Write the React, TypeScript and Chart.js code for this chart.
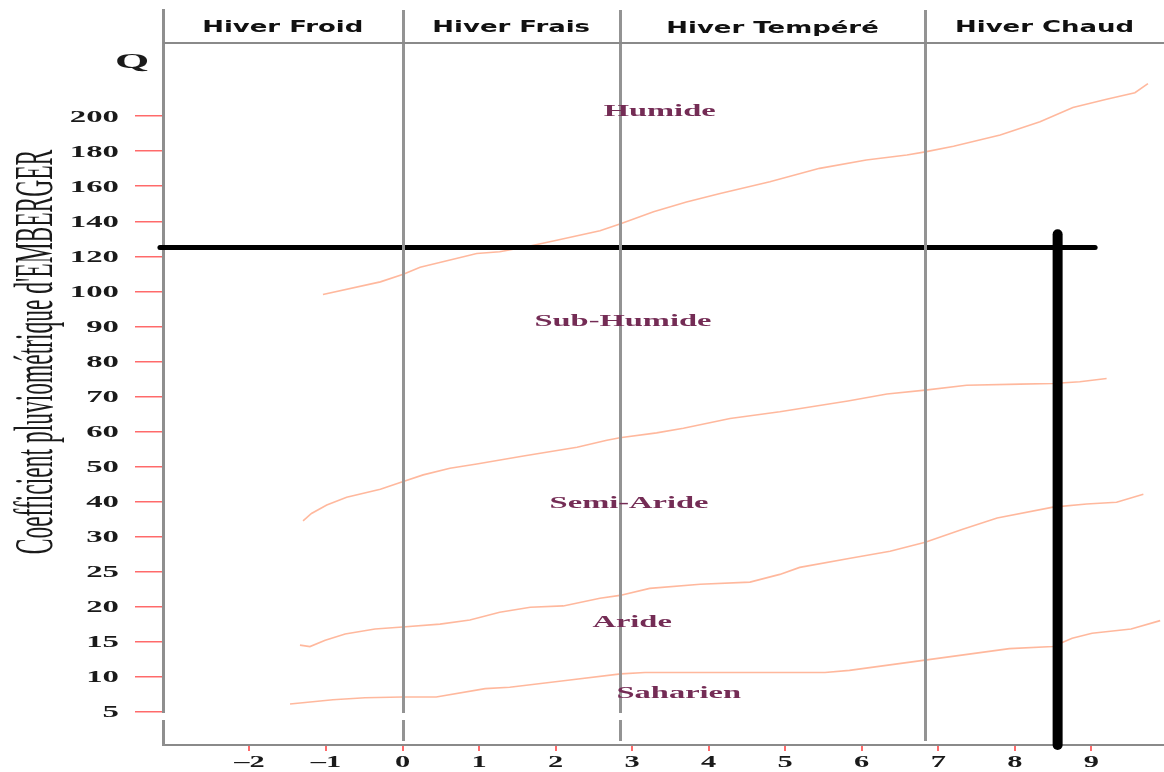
import { useEffect, useRef } from 'react';
import { Chart, registerables } from 'chart.js';

Chart.register(...registerables);

// Emberger climagram: Q (pluviometric quotient) against m (mean minimum of the coldest month, °C)

// Q axis graduations (non-linear, evenly spaced on the axis)
const qTicks = [5, 10, 15, 20, 25, 30, 40, 50, 60, 70, 80, 90, 100, 120, 140, 160, 180, 200];
// m axis graduations
const mTicks = [-2, -1, 0, 1, 2, 3, 4, 5, 6, 7, 8, 9];
const mTickLabels = ['–2', '–1', '0', '1', '2', '3', '4', '5', '6', '7', '8', '9'];

// winter variants
const winterBounds = [0, 2.84, 6.83];
const winterLabels = ['Hiver Froid', 'Hiver Frais', 'Hiver Tempéré', 'Hiver Chaud'];

// bioclimatic stage limits
const limitHumideM = [-1.04, -0.29, 0.01, 0.23, 0.58, 0.97, 1.27, 1.62, 1.97, 2.58, 2.84, 3.28, 3.71, 4.15, 4.8, 5.45, 6.06, 6.59, 6.83, 7.2, 7.81, 8.33, 8.76, 9.2, 9.57, 9.74];
const limitHumideQ = [99.1, 105.4, 109.8, 113.7, 117.4, 121.6, 122.6, 125.4, 128.7, 134.6, 138.4, 145.4, 151, 155.8, 162.6, 170.2, 175, 177.8, 179.6, 182.8, 189.2, 196.8, 205, 209.6, 213.4, 218.6];

const limitSubHumideM = [-1.3, -1.19, -0.99, -0.73, -0.29, -0.01, 0.27, 0.62, 0.97, 1.58, 2.28, 2.67, 2.84, 3.32, 3.67, 4.28, 4.93, 5.82, 6.33, 6.83, 7.37, 8.07, 8.5, 8.85, 9.2];
const limitSubHumideQ = [34.5, 36.6, 39.0, 41.2, 43.5, 45.6, 47.6, 49.5, 50.7, 53.0, 55.5, 57.5, 58.2, 59.6, 60.9, 63.7, 65.6, 68.7, 70.7, 71.8, 73.2, 73.5, 73.7, 74.2, 75.1];

const limitSemiArideM = [-1.34, -1.21, -1.01, -0.75, -0.36, 0, 0.49, 0.88, 1.27, 1.67, 2.1, 2.58, 2.84, 3.23, 3.89, 4.54, 4.93, 5.19, 5.85, 6.37, 6.83, 7.32, 7.77, 8.5, 8.94, 9.33, 9.68];
const limitSemiArideQ = [14.5, 14.3, 15.2, 16.1, 16.8, 17.1, 17.5, 18.1, 19.2, 19.9, 20.1, 21.2, 21.6, 22.6, 23.2, 23.5, 24.6, 25.6, 26.9, 27.9, 29.2, 32.1, 35.3, 38.4, 39.3, 39.8, 42.1];

const limitArideM = [-1.47, -0.91, -0.49, 0, 0.44, 1.08, 1.4, 2.16, 2.85, 3.17, 4.34, 5.52, 5.84, 6.85, 7.93, 8.5, 8.75, 9.01, 9.52, 9.9];
const limitArideQ = [6.1, 6.7, 7.0, 7.1, 7.1, 8.3, 8.5, 9.5, 10.4, 10.6, 10.6, 10.6, 10.9, 12.4, 14.0, 14.3, 15.5, 16.2, 16.8, 18.0];

// stage names and where they are written
const zoneNames = ['Humide', 'Sub-Humide', 'Semi-Aride', 'Aride', 'Saharien'];
const zoneM = [3.36, 2.88, 2.96, 3.0, 3.61];
const zoneQ = [203, 91.8, 39.6, 17.9, 7.8];

// station position
const stationQ = 125;
const stationM = 8.56;
const stationLineM = [-3.17, 9.05];
const stationTopQ = 132.6;

const M_MIN = -3.13;
const M_MAX = 9.95;
const POS_MIN = -0.95;
const POS_MAX = 20.03;

// Q -> position on the graduated axis (piecewise between graduations)
function qToPos(q: number): number {
  const n = qTicks.length;
  if (q <= qTicks[0]) return (q - qTicks[0]) / (qTicks[1] - qTicks[0]);
  for (let i = 1; i < n; i++) {
    if (q <= qTicks[i]) return i - 1 + (q - qTicks[i - 1]) / (qTicks[i] - qTicks[i - 1]);
  }
  return n - 1 + (q - qTicks[n - 1]) / (qTicks[n - 1] - qTicks[n - 2]);
}

const toPoints = (ms: number[], qs: number[]) => ms.map((m, i) => ({ x: m, y: qToPos(qs[i]) }));

function stretchedText(
  ctx: CanvasRenderingContext2D,
  text: string,
  x: number,
  y: number,
  font: string,
  sx: number,
  align: CanvasTextAlign,
  color: string
) {
  ctx.save();
  ctx.translate(x, y);
  ctx.scale(sx, 1);
  ctx.font = font;
  ctx.textAlign = align;
  ctx.textBaseline = 'alphabetic';
  ctx.fillStyle = color;
  ctx.fillText(text, 0, 0);
  ctx.restore();
}

const overlay = {
  id: 'climagramOverlay',
  afterDatasetsDraw(chart: any) {
    const { ctx, chartArea } = chart;
    const xs = chart.scales.x;
    ctx.save();
    // winter variant separators
    ctx.strokeStyle = '#939393';
    ctx.lineWidth = 3;
    winterBounds.forEach((b) => {
      const px = Math.round(xs.getPixelForValue(b)) + 0.5;
      ctx.beginPath();
      ctx.moveTo(px, chartArea.top);
      ctx.lineTo(px, chartArea.bottom - 4);
      ctx.stroke();
    });
    // header rule
    ctx.strokeStyle = '#8a8a8a';
    ctx.lineWidth = 2;
    ctx.beginPath();
    ctx.moveTo(chartArea.left, 43);
    ctx.lineTo(chartArea.right, 43);
    ctx.stroke();
    // axis break
    ctx.fillStyle = '#ffffff';
    ctx.fillRect(150, 713, 585, 7);
    ctx.restore();
  },
  afterDraw(chart: any) {
    const { ctx, chartArea } = chart;
    const xs = chart.scales.x;
    const ys = chart.scales.y;

    // header labels
    const edges = [chartArea.left, ...winterBounds.map((b) => xs.getPixelForValue(b)), chartArea.right];
    winterLabels.forEach((label, i) => {
      const cx = (edges[i] + edges[i + 1]) / 2;
      stretchedText(ctx, label, cx, i === 2 ? 33 : 32, 'bold 15px "DejaVu Sans"', 1.73, 'center', '#111');
    });

    // Q graduations
    qTicks.forEach((q, i) => {
      const py = ys.getPixelForValue(i);
      stretchedText(ctx, String(q), 119, py + 5.5, 'bold 16px "Liberation Serif"', 2.05, 'right', '#1a1a1a');
    });

    // m graduations
    mTicks.forEach((m, i) => {
      const px = xs.getPixelForValue(m);
      stretchedText(ctx, mTickLabels[i], px, 767, 'bold 16px "Liberation Serif"', 1.9, 'center', '#1a1a1a');
    });

    // Q symbol
    stretchedText(ctx, 'Q', 132, 68, 'bold 20px "Liberation Serif"', 2.2, 'center', '#1a1a1a');

    // stage names
    ctx.save();
    ctx.filter = 'blur(0.4px)';
    zoneNames.forEach((name, i) => {
      const px = xs.getPixelForValue(zoneM[i]);
      const py = ys.getPixelForValue(qToPos(zoneQ[i]));
      stretchedText(ctx, name, px, py + 5.5, 'bold 16.5px "Liberation Serif"', 1.97, 'center', '#742c55');
    });
    ctx.restore();

    // axis title
    ctx.save();
    ctx.translate(52, 352);
    ctx.rotate(-Math.PI / 2);
    ctx.scale(1, 2.3);
    ctx.font = '23.5px "Liberation Serif"';
    ctx.textAlign = 'center';
    ctx.textBaseline = 'alphabetic';
    ctx.fillStyle = '#1a1a1a';
    ctx.fillText("Coefficient pluviométrique d'EMBERGER", 0, 0);
    ctx.restore();
  },
};

export default function App() {
  const canvasRef = useRef<HTMLCanvasElement | null>(null);

  useEffect(() => {
    const canvas = canvasRef.current;
    if (!canvas) return;
    const limitStyle = {
      borderColor: 'rgba(255, 172, 140, 0.85)',
      borderWidth: 1.6,
      pointRadius: 0,
      fill: false,
      tension: 0,
    };
    const chart = new Chart(canvas, {
      type: 'line',
      data: {
        datasets: [
          {
            label: 'Station Q',
            data: [
              { x: stationLineM[0], y: qToPos(stationQ) },
              { x: stationLineM[1], y: qToPos(stationQ) },
            ],
            borderColor: '#000',
            borderWidth: 5,
            borderCapStyle: 'round',
            pointRadius: 0,
            clip: false,
          },
          {
            label: 'Station m',
            data: [
              { x: stationM, y: POS_MIN },
              { x: stationM, y: qToPos(stationTopQ) },
            ],
            borderColor: '#000',
            borderWidth: 10,
            borderCapStyle: 'round',
            pointRadius: 0,
            clip: false,
          },
          { label: 'Humide', data: toPoints(limitHumideM, limitHumideQ), ...limitStyle },
          { label: 'Sub-Humide', data: toPoints(limitSubHumideM, limitSubHumideQ), ...limitStyle },
          { label: 'Semi-Aride', data: toPoints(limitSemiArideM, limitSemiArideQ), ...limitStyle },
          { label: 'Aride', data: toPoints(limitArideM, limitArideQ), ...limitStyle },
        ] as any,
      },
      options: {
        animation: false,
        responsive: false,
        events: [],
        layout: { padding: { top: 10, left: 0, right: 0, bottom: 0 } },
        plugins: {
          legend: { display: false },
          tooltip: { enabled: false },
          title: { display: false },
        },
        scales: {
          x: {
            type: 'linear',
            min: M_MIN,
            max: M_MAX,
            afterBuildTicks: (s: any) => {
              s.ticks = mTicks.map((v) => ({ value: v }));
            },
            afterFit: (s: any) => {
              s.height = 27;
            },
            ticks: { display: false },
            grid: { drawOnChartArea: false, tickLength: 6, color: '#ff6a6a', lineWidth: 2 },
            border: { display: true, color: '#8a8a8a', width: 2 },
          },
          y: {
            type: 'linear',
            min: POS_MIN,
            max: POS_MAX,
            afterBuildTicks: (s: any) => {
              s.ticks = qTicks.map((_, i) => ({ value: i }));
            },
            afterFit: (s: any) => {
              s.width = 163;
            },
            ticks: { display: false },
            grid: { drawOnChartArea: false, tickLength: 28, color: '#ff6a6a', lineWidth: 1.5 },
            border: { display: true, color: '#8f8f8f', width: 3 },
          },
        },
      } as any,
      plugins: [overlay],
    });
    return () => chart.destroy();
  }, []);

  return (
    <div style={{ position: 'absolute', left: 0, top: 0, width: 1164, height: 772, background: '#fff' }}>
      <canvas ref={canvasRef} width={1164} height={772} />
    </div>
  );
}
